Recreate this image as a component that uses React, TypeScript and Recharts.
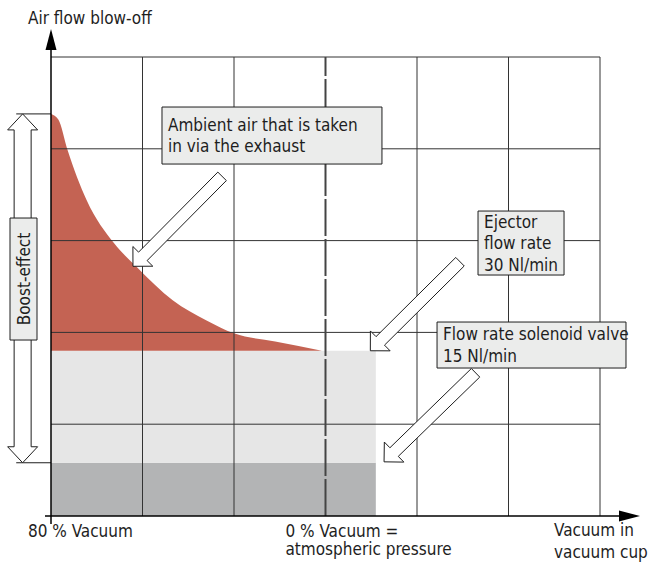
import React from 'react'
import { ComposedChart, Area, XAxis, YAxis, ReferenceArea, ReferenceLine } from 'recharts'

// curve of the ambient air taken in via the exhaust (grid units)
const vacuumPos = [0, 0.08, 0.18, 0.39, 0.69, 0.94, 1.33, 1.7, 2.0, 2.45, 2.96]
const ambientFlow = [4.38, 4.32, 3.99, 3.44, 2.97, 2.71, 2.35, 2.13, 1.99, 1.9, 1.8]

const ejectorFlow = 1.8
const solenoidFlow = 0.58
const atmosphereX = 3
const flowEndX = 3.55

const xTicks = [0, 3]
const xTickLabels = [['80 % Vacuum'], ['0 % Vacuum =', 'atmospheric pressure']]
const xAxisTitle = ['Vacuum in', 'vacuum cup']
const yAxisTitle = 'Air flow blow-off'
const boostLabel = 'Boost-effect'

const noteTexts = [
  ['Ambient air that is taken', 'in via the exhaust'],
  ['Ejector', 'flow rate', '30 Nl/min'],
  ['Flow rate solenoid valve', '15 Nl/min'],
]

const gridX = [1, 2, 4, 5, 6]
const gridY = [1, 2, 3, 4, 5]

// annotation layout, in grid units
const noteBoxes = [
  { x1: 1.213, x2: 3.617, y1: 3.834, y2: 4.455 },
  { x1: 4.667, x2: 5.607, y1: 2.625, y2: 3.322 },
  { x1: 4.219, x2: 6.284, y1: 1.612, y2: 2.113 },
]
const noteArrows = [
  { from: { x: 1.87, y: 3.7 }, to: { x: 0.896, y: 2.72 } },
  { from: { x: 4.47, y: 2.77 }, to: { x: 3.49, y: 1.8 } },
  { from: { x: 4.64, y: 1.56 }, to: { x: 3.64, y: 0.59 } },
]

const chartData = vacuumPos.map((x, i) => ({ x, flow: ambientFlow[i] }))

const FONT = "'Liberation Sans Narrow', 'DejaVu Sans Condensed', sans-serif"
const FS = 17
const INK = '#1e1e1e'
const GRID = '#333'
const BOX_FILL = '#ebeceb'

// hollow block arrow from tail to tip
function HollowArrow(props: any) {
  const { x1, y1, x2, y2 } = props
  const len = Math.hypot(x2 - x1, y2 - y1)
  const ux = (x2 - x1) / len
  const uy = (y2 - y1) / len
  const nx = -uy
  const ny = ux
  const w = 6
  const h = 14
  const bx = x2 - ux * 14
  const by = y2 - uy * 14
  const pts = [
    [x1 + nx * w, y1 + ny * w],
    [bx + nx * w, by + ny * w],
    [bx + nx * h, by + ny * h],
    [x2, y2],
    [bx - nx * h, by - ny * h],
    [bx - nx * w, by - ny * w],
    [x1 - nx * w, y1 - ny * w],
  ]
  return <polygon points={pts.map((p) => p.join(',')).join(' ')} fill="#fff" stroke={INK} strokeWidth={1} />
}

// double headed hollow arrow (vertical)
function DoubleArrow(props: any) {
  const { x1, y1, y2 } = props
  const top = Math.min(y1, y2)
  const bot = Math.max(y1, y2)
  const w = 8.5
  const h = 15
  const L = 16
  const pts = [
    [x1, top],
    [x1 + h, top + L],
    [x1 + w, top + L],
    [x1 + w, bot - L],
    [x1 + h, bot - L],
    [x1, bot],
    [x1 - h, bot - L],
    [x1 - w, bot - L],
    [x1 - w, top + L],
    [x1 - h, top + L],
  ]
  return <polygon points={pts.map((p) => p.join(',')).join(' ')} fill="#fff" stroke={INK} strokeWidth={1} />
}

// axis line with filled arrow head at the end
function AxisArrow(props: any) {
  const { x1, y1, x2, y2 } = props
  const len = Math.hypot(x2 - x1, y2 - y1)
  const ux = (x2 - x1) / len
  const uy = (y2 - y1) / len
  const bx = x2 - ux * 21
  const by = y2 - uy * 21
  const pts = [
    [x2, y2],
    [bx - uy * 5.5, by + ux * 5.5],
    [bx + uy * 5.5, by - ux * 5.5],
  ]
  return (
    <g>
      <line x1={x1} y1={y1} x2={bx} y2={by} stroke="#000" strokeWidth={1.5} />
      <polygon points={pts.map((p) => p.join(',')).join(' ')} fill="#000" />
    </g>
  )
}

const XTick = (props: any) => {
  const { x, y, payload } = props
  const idx = xTicks.indexOf(payload.value)
  const lines = xTickLabels[idx] || []
  const shift = idx === 0 ? -23 : -40
  return (
    <text x={x + shift} y={y + 13} fill={INK} fontFamily={FONT} fontSize={FS} textAnchor="start">
      {lines.map((l, i) => (
        <tspan key={i} x={x + shift} dy={i === 0 ? 0 : 18}>
          {l}
        </tspan>
      ))}
    </text>
  )
}

const noteLabel = (lines: string[]) => (props: any) => {
  const vb = props.viewBox
  if (!vb) return null
  const cy = vb.y + vb.height / 2 + 6
  return (
    <text fill={INK} fontFamily={FONT} fontSize={FS}>
      {lines.map((l, i) => (
        <tspan key={i} x={vb.x + 6} y={cy + (i - (lines.length - 1) / 2) * 21.5}>
          {l}
        </tspan>
      ))}
    </text>
  )
}

const boostText = (props: any) => {
  const vb = props.viewBox
  if (!vb) return null
  const cx = vb.x + vb.width / 2 + 6
  const cy = vb.y + vb.height / 2
  return (
    <text x={cx} y={cy} fill={INK} fontFamily={FONT} fontSize={FS} textAnchor="middle" transform={`rotate(-90 ${cx} ${cy})`}>
      {boostLabel}
    </text>
  )
}

const yTitle = (props: any) => {
  const vb = props.viewBox
  if (!vb) return null
  return (
    <text x={vb.x - 23} y={vb.y - 5} fill={INK} fontFamily={FONT} fontSize={FS}>
      {yAxisTitle}
    </text>
  )
}

const xTitle = (props: any) => {
  const vb = props.viewBox
  if (!vb) return null
  const x = vb.x + vb.width - 46
  return (
    <text fill={INK} fontFamily={FONT} fontSize={FS}>
      {xAxisTitle.map((l, i) => (
        <tspan key={i} x={x} y={536 + i * 22}>
          {l}
        </tspan>
      ))}
    </text>
  )
}

export default function App() {
  return (
    <div style={{ position: 'absolute', left: 0, top: 0, background: '#fff' }}>
      <ComposedChart width={648} height={565} data={chartData} margin={{ top: 57, right: 48, bottom: 0, left: 51 }}>
        <XAxis
          type="number"
          dataKey="x"
          domain={[0, 6]}
          ticks={xTicks}
          interval={0}
          height={49}
          axisLine={false}
          tickLine={false}
          tick={<XTick />}
          label={xTitle}
        />
        <YAxis type="number" domain={[0, 5]} ticks={[0, 1, 2, 3, 4, 5]} width={0} tick={false} axisLine={false} tickLine={false} />

        <ReferenceArea x1={0} x2={flowEndX} y1={0} y2={solenoidFlow} fill="#b3b4b5" fillOpacity={1} stroke="none" zIndex={50} />
        <ReferenceArea x1={0} x2={flowEndX} y1={solenoidFlow} y2={ejectorFlow} fill="#e6e6e6" fillOpacity={1} stroke="none" zIndex={50} />
        <Area
          type="monotone"
          dataKey={(d: any) => [ejectorFlow, d.flow]}
          fill="#c46353"
          fillOpacity={1}
          stroke="none"
          isAnimationActive={false}
          activeDot={false}
          dot={false}
          zIndex={60}
        />

        {gridY.map((v) => (
          <ReferenceLine key={'gy' + v} y={v} stroke={GRID} strokeWidth={1} zIndex={70} />
        ))}
        {gridX.map((v) => (
          <ReferenceLine key={'gx' + v} x={v} stroke={GRID} strokeWidth={1} zIndex={70} />
        ))}
        <ReferenceLine x={atmosphereX} stroke="#444" strokeWidth={2} strokeDasharray="37 3" zIndex={75} />

        <ReferenceLine
          segment={[{ x: -0.38, y: ambientFlow[0] }, { x: 0, y: ambientFlow[0] }]}
          ifOverflow="visible"
          stroke={INK}
          strokeWidth={1}
          zIndex={80}
        />
        <ReferenceLine
          segment={[{ x: -0.38, y: solenoidFlow }, { x: 0, y: solenoidFlow }]}
          ifOverflow="visible"
          stroke={INK}
          strokeWidth={1}
          zIndex={80}
        />
        <ReferenceLine
          segment={[{ x: -0.31, y: solenoidFlow }, { x: -0.31, y: ambientFlow[0] }]}
          ifOverflow="visible"
          shape={DoubleArrow}
          zIndex={85}
        />
        <ReferenceArea
          x1={-0.448}
          x2={-0.153}
          y1={1.917}
          y2={3.246}
          ifOverflow="visible"
          fill={BOX_FILL}
          fillOpacity={1}
          stroke={INK}
          strokeWidth={1}
          label={boostText}
          zIndex={90}
        />

        <ReferenceLine
          segment={[{ x: 0, y: -0.087 }, { x: 0, y: 5.305 }]}
          ifOverflow="visible"
          shape={AxisArrow}
          label={yTitle}
          zIndex={95}
        />
        <ReferenceLine
          segment={[{ x: -0.066, y: 0 }, { x: 6.437, y: 0 }]}
          ifOverflow="visible"
          shape={AxisArrow}
          zIndex={95}
        />

        {noteBoxes.map((b, i) => (
          <ReferenceArea
            key={'nb' + i}
            x1={b.x1}
            x2={b.x2}
            y1={b.y1}
            y2={b.y2}
            ifOverflow="visible"
            fill={BOX_FILL}
            fillOpacity={1}
            stroke={INK}
            strokeWidth={1}
            label={noteLabel(noteTexts[i])}
            zIndex={100}
          />
        ))}
        {noteArrows.map((a, i) => (
          <ReferenceLine key={'na' + i} segment={[a.from, a.to]} ifOverflow="visible" shape={HollowArrow} zIndex={110} />
        ))}
      </ComposedChart>
    </div>
  )
}
